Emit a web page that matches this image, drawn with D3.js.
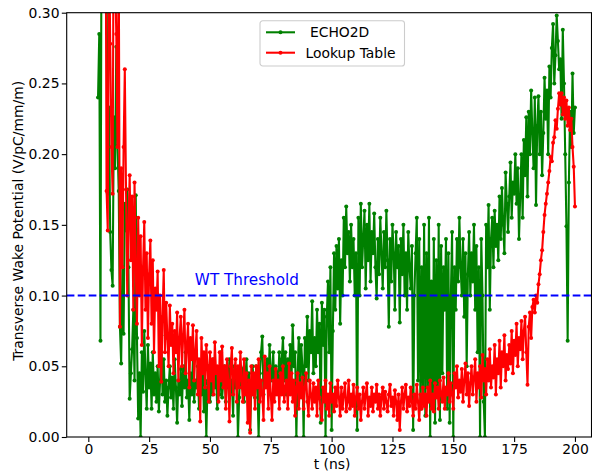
<!DOCTYPE html>
<html>
<head>
<meta charset="utf-8">
<script src="https://cdn.jsdelivr.net/npm/d3@7"></script>
<style>
  body { margin: 0; background: #fff; }
  svg { font-family: "DejaVu Sans", sans-serif; }
</style>
</head>
<body>
<div class="canvas"></div>
<script>
// sampling: both runs are on a 0.5 ns grid
const echoStart = 4, lookupStart = 7, dt = 0.5;

// ECHO2D, t = 4 ... 200 ns
const echo2d = [
  0.24, 0.285, 0.068, 0.42, 0.55, 0.48, 0.39, 0.33,
  0.172, 0.233, 0.145, 0.118, 0.107, 0.226, 0.19, 0.276, 0.206, 0.174,
  0.078, 0.052, 0.12, 0.073, 0.165, 0.146, 0.175, 0.12, 0.027, 0.045,
  0.062, 0.09, 0.04, 0.171, 0.07, 0.013, 0.045, 0.0, 0.06, 0.032,
  0.075, 0.045, 0.02, 0.065, 0.035, 0.052, 0.02, 0.06, 0.03, 0.045,
  0.025, 0.05, 0.018, 0.04, 0.072, 0.03, 0.055, 0.025, 0.04, 0.015,
  0.035, 0.05, 0.028, 0.042, 0.02, 0.055, 0.035, 0.01, 0.04, 0.03,
  0.048, 0.022, 0.05, 0.035, 0.06, 0.028, 0.04, 0.012, 0.045, 0.03,
  0.055, 0.025, 0.04, 0.035, 0.05, 0.02, 0.045, 0.03, 0.052, 0.018,
  0.04, 0.0, 0.038, 0.05, 0.025, 0.042, 0.03, 0.055, 0.035, 0.045,
  0.02, 0.045, 0.03, 0.06, 0.028, 0.04, 0.05, 0.025, 0.045, 0.035,
  0.055, 0.03, 0.04, 0.015, 0.05, 0.035, 0.045, 0.0, 0.028, 0.05,
  0.035, 0.048, 0.025, 0.04, 0.055, 0.03, 0.045, 0.005, 0.035, 0.05,
  0.04, 0.028, 0.05, 0.035, 0.0, 0.045, 0.06, 0.071, 0.03, 0.05,
  0.04, 0.055, 0.035, 0.065, 0.045, 0.04, 0.06, 0.03, 0.05, 0.045,
  0.04, 0.06, 0.035, 0.055, 0.07, 0.04, 0.06, 0.03, 0.055, 0.045,
  0.065, 0.04, 0.079, 0.05, 0.06, 0.0, 0.045, 0.07, 0.035, 0.065,
  0.05, 0.0, 0.07, 0.05, 0.085, 0.04, 0.075, 0.06, 0.096, 0.045,
  0.07, 0.05, 0.09, 0.06, 0.08, 0.01, 0.095, 0.065, 0.09, 0.0,
  0.085, 0.11, 0.06, 0.12, 0.005, 0.075, 0.13, 0.09, 0.135, 0.105,
  0.14, 0.08, 0.125, 0.1, 0.155, 0.12, 0.163, 0.13, 0.145, 0.11,
  0.15, 0.12, 0.14, 0.1, 0.13, 0.005, 0.155, 0.1, 0.165, 0.12,
  0.14, 0.16, 0.105, 0.15, 0.125, 0.165, 0.11, 0.145, 0.13, 0.158,
  0.12, 0.098, 0.14, 0.115, 0.155, 0.13, 0.105, 0.145, 0.12, 0.16,
  0.125, 0.078, 0.14, 0.11, 0.15, 0.13, 0.09, 0.145, 0.12, 0.135,
  0.081, 0.14, 0.115, 0.15, 0.1, 0.13, 0.09, 0.145, 0.12, 0.105,
  0.135, 0.005, 0.1, 0.13, 0.155, 0.04, 0.14, 0.02, 0.12, 0.03,
  0.15, 0.015, 0.13, 0.035, 0.155, 0.0, 0.11, 0.025, 0.14, 0.01,
  0.125, 0.03, 0.15, 0.012, 0.135, 0.045, 0.12, 0.09, 0.14, 0.02,
  0.13, 0.01, 0.1, 0.145, 0.0, 0.12, 0.09, 0.14, 0.11, 0.155,
  0.12, 0.1, 0.14, 0.085, 0.13, 0.05, 0.115, 0.145, 0.1, 0.13,
  0.11, 0.15, 0.09, 0.135, 0.06, 0.12, 0.0, 0.14, 0.1, 0.025,
  0.0, 0.15, 0.12, 0.164, 0.09, 0.14, 0.155, 0.12, 0.16, 0.135,
  0.15, 0.125, 0.17, 0.14, 0.176, 0.15, 0.13, 0.187, 0.165, 0.145,
  0.17, 0.194, 0.155, 0.18, 0.172, 0.2, 0.165, 0.19, 0.14, 0.17,
  0.2, 0.155, 0.21, 0.185, 0.226, 0.17, 0.23, 0.2, 0.245, 0.215,
  0.19, 0.24, 0.164, 0.22, 0.241, 0.2, 0.23, 0.185, 0.215, 0.254,
  0.225, 0.245, 0.2, 0.262, 0.24, 0.275, 0.292, 0.25, 0.27, 0.298,
  0.28, 0.26, 0.267, 0.225, 0.288, 0.25, 0.2, 0.149, 0.068, 0.18,
  0.23, 0.205, 0.257, 0.215, 0.233
];

// Lookup Table, t = 7 ... 200 ns
const lookup = [
  0.45, 0.174,
  0.146, 0.36, 0.278, 0.205, 0.172, 0.42, 0.33, 0.285, 0.205, 0.35,
  0.078, 0.19, 0.12, 0.205, 0.26, 0.175, 0.1, 0.15, 0.185, 0.125,
  0.17, 0.09, 0.18, 0.12, 0.08, 0.155, 0.1, 0.142, 0.065, 0.12,
  0.152, 0.09, 0.13, 0.07, 0.115, 0.139, 0.08, 0.125, 0.06, 0.105,
  0.09, 0.117, 0.05, 0.1, 0.039, 0.085, 0.118, 0.06, 0.095, 0.07,
  0.05, 0.093, 0.065, 0.08, 0.045, 0.075, 0.06, 0.088, 0.04, 0.07,
  0.085, 0.05, 0.072, 0.09, 0.045, 0.065, 0.08, 0.035, 0.07, 0.055,
  0.079, 0.04, 0.06, 0.075, 0.03, 0.055, 0.011, 0.07, 0.045, 0.06,
  0.035, 0.065, 0.05, 0.025, 0.06, 0.04, 0.055, 0.03, 0.067, 0.045,
  0.05, 0.025, 0.06, 0.04, 0.064, 0.035, 0.05, 0.02, 0.055, 0.04,
  0.011, 0.05, 0.063, 0.03, 0.045, 0.055, 0.025, 0.05, 0.035, 0.06,
  0.04, 0.025, 0.055, 0.03, 0.045, 0.01, 0.04, 0.003, 0.05, 0.03,
  0.045, 0.02, 0.05, 0.035, 0.055, 0.025, 0.04, 0.03, 0.012, 0.057,
  0.035, 0.045, 0.02, 0.05, 0.03, 0.012, 0.04, 0.025, 0.048, 0.03,
  0.04, 0.02, 0.045, 0.03, 0.05, 0.025, 0.035, 0.04, 0.02, 0.052,
  0.03, 0.045, 0.025, 0.04, 0.015, 0.035, 0.045, 0.02, 0.038, 0.028,
  0.042, 0.02, 0.035, 0.045, 0.025, 0.015, 0.04, 0.03, 0.02, 0.038,
  0.025, 0.035, 0.015, 0.04, 0.028, 0.02, 0.012, 0.035, 0.025, 0.04,
  0.02, 0.03, 0.015, 0.038, 0.025, 0.03, 0.018, 0.035, 0.022, 0.04,
  0.028, 0.015, 0.035, 0.02, 0.03, 0.038, 0.018, 0.025, 0.04, 0.02,
  0.03, 0.022, 0.037, 0.015, 0.028, 0.035, 0.02, 0.03, 0.012, 0.025,
  0.035, 0.02, 0.03, 0.038, 0.015, 0.028, 0.022, 0.035, 0.018, 0.03,
  0.025, 0.037, 0.02, 0.03, 0.015, 0.028, 0.035, 0.02, 0.032, 0.025,
  0.018, 0.03, 0.037, 0.022, 0.028, 0.015, 0.033, 0.025, 0.012, 0.03,
  0.005, 0.025, 0.035, 0.02, 0.03, 0.037, 0.018, 0.028, 0.022, 0.035,
  0.025, 0.015, 0.03, 0.02, 0.037, 0.025, 0.012, 0.03, 0.02, 0.035,
  0.022, 0.03, 0.015, 0.035, 0.025, 0.04, 0.02, 0.03, 0.018, 0.038,
  0.028, 0.035, 0.02, 0.04, 0.03, 0.025, 0.042, 0.02, 0.035, 0.03,
  0.045, 0.025, 0.038, 0.03, 0.02, 0.045, 0.035, 0.05, 0.028, 0.04,
  0.032, 0.048, 0.025, 0.04, 0.052, 0.03, 0.045, 0.022, 0.038, 0.05,
  0.03, 0.042, 0.055, 0.025, 0.045, 0.035, 0.05, 0.028, 0.058, 0.04,
  0.048, 0.03, 0.055, 0.04, 0.062, 0.035, 0.05, 0.042, 0.065, 0.03,
  0.055, 0.045, 0.068, 0.035, 0.06, 0.05, 0.072, 0.04, 0.058, 0.048,
  0.065, 0.052, 0.075, 0.045, 0.068, 0.058, 0.08, 0.05, 0.07, 0.062,
  0.082, 0.055, 0.075, 0.085, 0.06, 0.037, 0.078, 0.088, 0.07, 0.092,
  0.097, 0.088, 0.1, 0.095, 0.108, 0.115, 0.125, 0.132, 0.145, 0.157,
  0.165, 0.172, 0.18, 0.188, 0.198, 0.195, 0.208, 0.212, 0.224, 0.218,
  0.232, 0.243, 0.235, 0.243, 0.228, 0.24, 0.225, 0.238, 0.22, 0.233,
  0.217, 0.225, 0.205, 0.191, 0.163
];

const xTicks = [0, 25, 50, 75, 100, 125, 150, 175, 200];
const yTicks = [0, 0.05, 0.10, 0.15, 0.20, 0.25, 0.30];
const threshold = 0.1;
const seriesNames = [' ECHO2D', 'Lookup Table'];
const seriesColors = ['green', 'red'];

function drawGraph() {
  const width = 592, height = 472;
  const margin = { top: 12.7, right: 0.5, bottom: 35, left: 66.7 };
  const graphWidth = width - margin.left - margin.right;
  const graphHeight = height - margin.top - margin.bottom;
  const fs = 13.9;

  const svg = d3.select('.canvas')
    .append('svg')
    .attr('width', width)
    .attr('height', height);

  const graph = svg.append('g')
    .attr('transform', `translate(${margin.left}, ${margin.top})`);

  const xScale = d3.scaleLinear().domain([-8.88, 206.8]).range([0, graphWidth]);
  const yScale = d3.scaleLinear().domain([0, 0.3]).range([graphHeight, 0]);

  graph.append('clipPath').attr('id', 'plotclip')
    .append('rect').attr('width', graphWidth).attr('height', graphHeight);

  const toPoints = (vals, t0) => vals.map((v, i) => ({ t: t0 + i * dt, v: v }));
  const series = [toPoints(echo2d, echoStart), toPoints(lookup, lookupStart)];

  const line = d3.line().x(d => xScale(d.t)).y(d => yScale(d.v));
  const plot = graph.append('g').attr('clip-path', 'url(#plotclip)');

  series.forEach((pts, k) => {
    plot.append('path')
      .datum(pts)
      .attr('d', line)
      .attr('fill', 'none')
      .attr('stroke', seriesColors[k])
      .attr('stroke-width', 2.08)
      .attr('stroke-linejoin', 'round');
    plot.append('g').selectAll('circle')
      .data(pts)
      .join('circle')
      .attr('cx', d => xScale(d.t))
      .attr('cy', d => yScale(d.v))
      .attr('r', 2)
      .attr('fill', seriesColors[k]);
  });

  // threshold line + label
  plot.append('line')
    .attr('x1', 0).attr('x2', graphWidth)
    .attr('y1', yScale(threshold)).attr('y2', yScale(threshold))
    .attr('stroke', 'blue')
    .attr('stroke-width', 2.08)
    .attr('stroke-dasharray', '7.7,3.3');
  graph.append('text')
    .attr('x', xScale(43.8))
    .attr('y', yScale(threshold) - 10.7)
    .attr('fill', 'blue')
    .attr('font-size', 15.2)
    .text('WT Threshold');

  // axes
  const xAxis = graph.append('g')
    .attr('transform', `translate(0, ${graphHeight})`)
    .call(d3.axisBottom(xScale).tickValues(xTicks).tickSize(4.9).tickPadding(2).tickFormat(d3.format('d')));
  const yAxis = graph.append('g')
    .call(d3.axisLeft(yScale).tickValues(yTicks).tickSize(4.9).tickPadding(2.3).tickFormat(d3.format('.2f')));
  [xAxis, yAxis].forEach(a => {
    a.select('.domain').remove();
    a.selectAll('line').attr('stroke-width', 1.1);
    a.selectAll('text').attr('font-size', fs).attr('font-family', '"DejaVu Sans", sans-serif').attr('fill', '#000');
  });

  graph.append('rect')
    .attr('width', graphWidth).attr('height', graphHeight)
    .attr('fill', 'none').attr('stroke', '#000').attr('stroke-width', 1.1);

  svg.append('text')
    .attr('x', 332).attr('y', 468.5)
    .attr('text-anchor', 'middle')
    .attr('font-size', fs)
    .text('t (ns)');
  svg.append('text')
    .attr('transform', `translate(23, ${margin.top + graphHeight / 2 - 4}) rotate(-90)`)
    .attr('text-anchor', 'middle')
    .attr('font-size', fs)
    .text('Transverse Wake Potential (V/pC/mm/m)');

  // legend
  const legend = svg.append('g').attr('transform', 'translate(260, 20.7)');
  legend.append('rect')
    .attr('width', 144.5).attr('height', 45.3).attr('rx', 2.8)
    .attr('fill', '#fff').attr('fill-opacity', 0.8)
    .attr('stroke', '#cccccc').attr('stroke-width', 1.1);
  seriesNames.forEach((name, k) => {
    const yy = 11.6 + k * 20.4;
    legend.append('line')
      .attr('x1', 6).attr('x2', 35).attr('y1', yy).attr('y2', yy)
      .attr('stroke', seriesColors[k]).attr('stroke-width', 2.08);
    legend.append('circle').attr('cx', 20.5).attr('cy', yy).attr('r', 2).attr('fill', seriesColors[k]);
    legend.append('text')
      .attr('x', 45.5).attr('y', yy + 5)
      .attr('font-size', fs)
      .attr('xml:space', 'preserve')
      .style('white-space', 'pre')
      .text(name);
  });
}

drawGraph();
</script>
</body>
</html>
